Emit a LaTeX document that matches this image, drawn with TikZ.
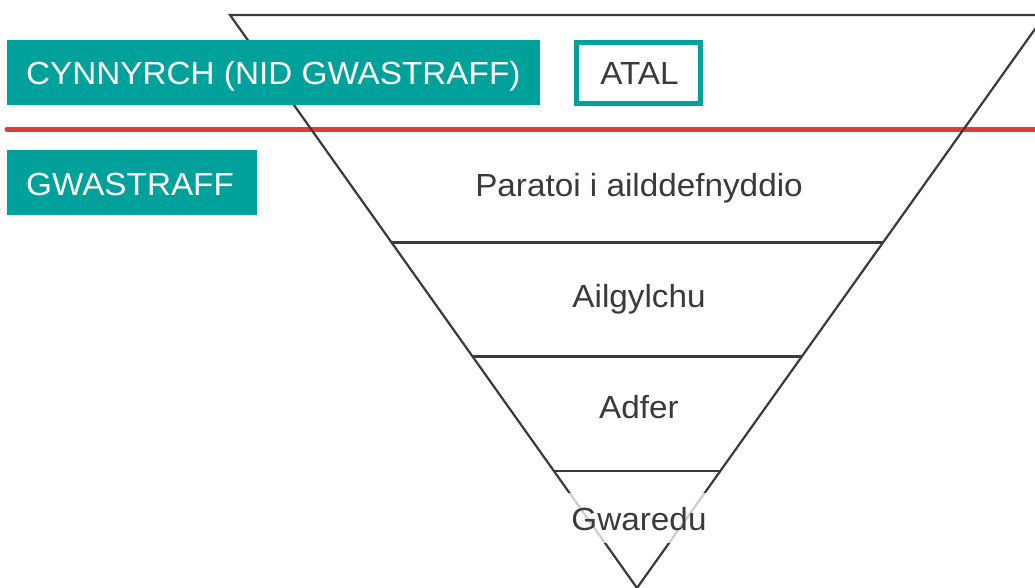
\documentclass[tikz,border=0pt]{standalone}
\usepackage{fontspec}
\setmainfont{Liberation Sans}[FakeStretch=1.04]
\usetikzlibrary{calc}
\definecolor{teal1}{RGB}{0,161,154}
\definecolor{red1}{RGB}{229,57,53}
\definecolor{ink}{RGB}{58,58,58}
\begin{document}
\begin{tikzpicture}[x=1pt,y=-1pt,
  lbl/.style={font=\fontsize{32}{37}\selectfont, text=ink, anchor=base, inner sep=0},
  wlbl/.style={lbl, text=white, anchor=base west},
  tealbox/.style={fill=teal1, draw=none, anchor=north west, inner sep=0},
  edge/.style={draw=ink, line width=2.2},
  tier/.style={draw=ink, line width=2.5}]
\useasboundingbox (0,0) rectangle (1035,587);
\clip (0,0) rectangle (1035,587);
\fill[white] (0,0) rectangle (1035,587);
% red divider
\coordinate (RL) at (7,129);
\coordinate (RR) at (1045,129);
\draw[red1, line width=5, line cap=round] (RL) -- (RR);
% inverted triangle
\coordinate (TL) at (230,15);
\coordinate (TR) at (1045,15);
\coordinate (A) at (637,588);
\draw[edge, line join=miter] (TL) -- (TR) -- (A) -- cycle;
\draw[tier] ($(TL)!0.3969!(A)$) -- ($(TR)!0.3969!(A)$);
\draw[tier] ($(TL)!0.5962!(A)$) -- ($(TR)!0.5962!(A)$);
\draw[tier] ($(TL)!0.7955!(A)$) -- ($(TR)!0.7955!(A)$);
% boxes
\node[tealbox, minimum width=533, minimum height=65] (cyn) at (7,40) {};
\node[tealbox, minimum width=250, minimum height=65] (gwa) at (7,150) {};
\node[draw=teal1, line width=5, fill=white, minimum width=124, minimum height=61, inner sep=0] (atal) at (638.5,73) {};
% halo behind Gwaredu
\node[fill=white, fill opacity=0.75, minimum width=147, minimum height=50, inner sep=0] (halo) at (638,518) {};
% texts
\node[wlbl] (t1) at (26,84) {CYNNYRCH (NID GWASTRAFF)};
\node[wlbl] (t3) at (26,195) {GWASTRAFF};
\node[lbl] (t2) at (639.5,84) {ATAL};
\node[lbl] (p1) at (639,196) {Paratoi i ailddefnyddio};
\node[lbl] (p2) at (639,307) {Ailgylchu};
\node[lbl] (p3) at (639,418.5) {Adfer};
\node[lbl] (p4) at (639,530) {Gwaredu};
\end{tikzpicture}
\end{document}
